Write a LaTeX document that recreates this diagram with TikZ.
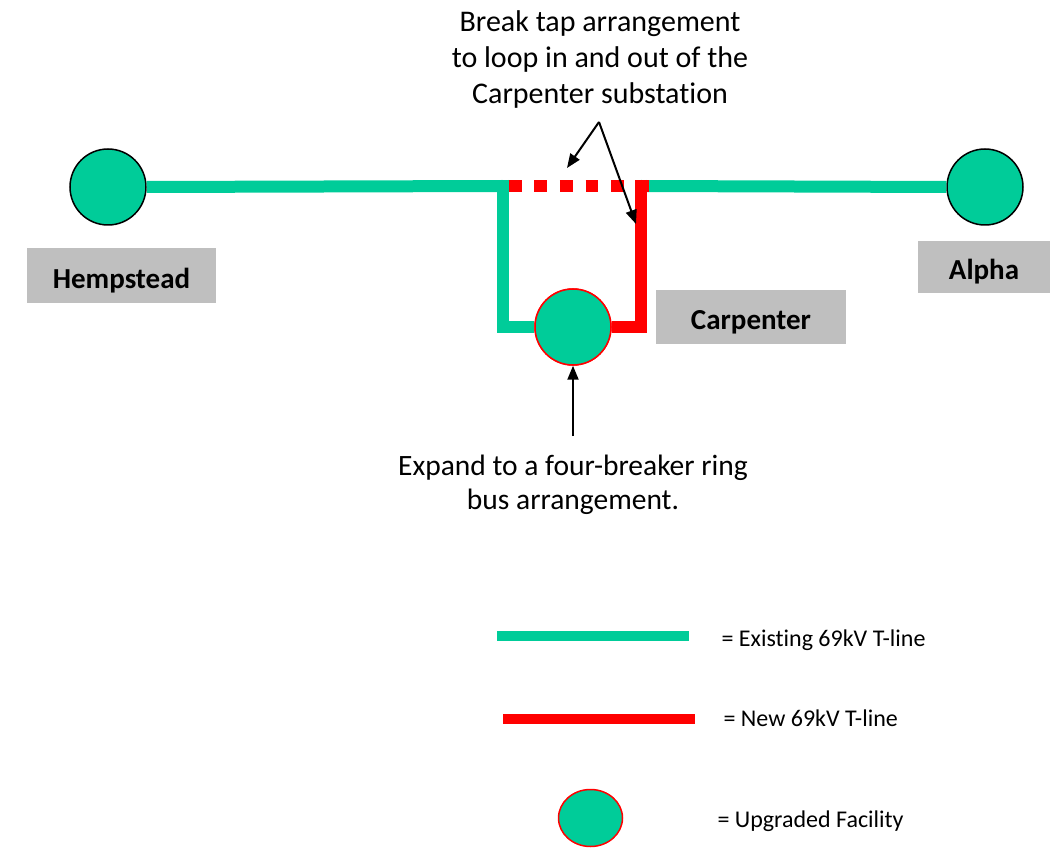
\documentclass[tikz,border=0pt]{standalone}
\usepackage{fontspec}
\setmainfont{Carlito}[Ligatures={NoCommon}]
\usetikzlibrary{arrows.meta,shapes.geometric}
\definecolor{lgreen}{HTML}{00CC99}
\definecolor{lred}{HTML}{FF0000}
\definecolor{lgray}{HTML}{BFBFBF}
\begin{document}
\begin{tikzpicture}[x=1pt,y=-1pt,
  existing/.style={draw=lgreen,line width=12pt},
  newline/.style={draw=lred,line width=12pt},
  station/.style={circle,fill=lgreen,draw=black,line width=1.5pt,minimum size=76pt,inner sep=0pt},
  upgraded/.style={circle,fill=lgreen,draw=lred,line width=1.5pt,minimum size=76pt,inner sep=0pt},
  namebox/.style={fill=lgray,inner sep=0pt,text height=25pt,text depth=0pt,font=\fontsize{29}{32}\selectfont\bfseries},
  note/.style={align=center,font=\fontsize{30}{36}\selectfont},
  legtext/.style={anchor=west,font=\fontsize{24}{28}\selectfont},
  pointer/.style={draw=black,line width=2pt,-{Triangle[length=14pt,width=11pt]}}]
\useasboundingbox (0,0) rectangle (1050,850);
% nodes
\node[station] (hemp) at (108,187) {};
\node[station] (alpha) at (985,187) {};
\node[upgraded] (carp) at (573,327) {};
\node[namebox,minimum width=189pt,minimum height=55pt] (hempbox) at (121.5,276) {Hempstead};
\node[namebox,minimum width=132pt,minimum height=52pt] (alphabox) at (984,267) {Alpha};
\node[namebox,minimum width=190pt,minimum height=54pt] (carpbox) at (751,317) {Carpenter};
% coordinates
\coordinate (tl) at (502.5,186);
\coordinate (tr) at (641,186);
\coordinate (bl) at (502.5,327);
\coordinate (br) at (641,327);
% lines
\draw[existing] (hemp.east) -- (tl);
\draw[existing] (tr) -- (alpha.west);
\draw[existing] (tl) ++(0,-6) -- (bl) -- (carp);
\draw[newline,dash pattern=on 12.8pt off 12.8pt] (508.7,186) -- (649,186);
\draw[newline] (641,180) -- (br) -- (carp);
\node[upgraded] at (carp) {};
% notes
\node[note] (top) at (600,60) {Break tap arrangement\\to loop in and out of the\\Carpenter substation};
\coordinate (apex) at (599,122);
\coordinate (t1) at (567,168);
\coordinate (t2) at (636,224);
\draw[pointer] (apex) -- (t1);
\draw[pointer] (apex) -- (t2);
\node[note,font=\fontsize{29.5}{34}\selectfont] (exp) at (573,485) {Expand to a four-breaker ring\\bus arrangement.};
\coordinate (ab) at (573,436);
\draw[pointer] (ab) -- (carp.south);
% legend
\coordinate (g1) at (497,636); \coordinate (g2) at (689,636);
\draw[draw=lgreen,line width=10pt] (g1) -- (g2);
\coordinate (r1) at (503,719); \coordinate (r2) at (695,719);
\draw[draw=lred,line width=10pt] (r1) -- (r2);
\node[ellipse,fill=lgreen,draw=lred,line width=1.5pt,minimum width=64pt,minimum height=57pt,inner sep=0pt] (leg) at (590.5,818) {};
\node[legtext] (l1) at (718,640) {= Existing 69kV T-line};
\node[legtext] (l2) at (720,718) {= New 69kV T-line};
\node[legtext] (l3) at (714,821) {= Upgraded Facility};
\end{tikzpicture}
\end{document}
